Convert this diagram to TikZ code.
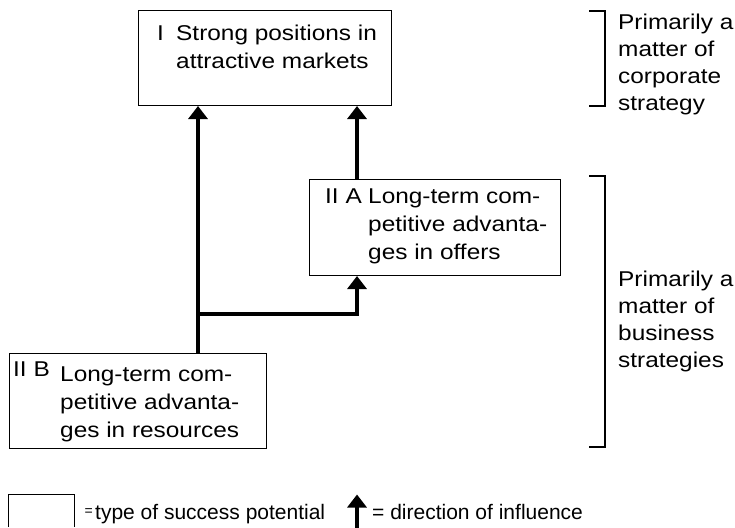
\documentclass[tikz,border=0pt]{standalone}
\usepackage{fontspec}
\setmainfont{Liberation Sans}[FakeStretch=1.14]
\newfontfamily\legendfont{Liberation Sans}
\usetikzlibrary{arrows.meta}

\begin{document}
\begin{tikzpicture}[x=1pt, y=-1pt,
  potbox/.style={draw, line width=1pt, inner sep=0pt, anchor=north west},
  boxtext/.style={inner sep=0pt, anchor=north west, align=left,
    font=\fontsize{21.4}{27.8}\selectfont},
  tag/.style={inner sep=0pt, anchor=base west, font=\fontsize{21.4}{27.8}\selectfont},
  influence/.style={line width=3.3pt, -{Triangle[length=13pt,width=19pt]}},
  brace/.style={line width=1.2pt},
  note/.style={inner sep=0pt, anchor=north west, align=left,
    font=\fontsize{21.4}{27}\selectfont},
  legend/.style={inner sep=0pt, anchor=base west,
    font=\legendfont\fontsize{21}{25}\selectfont}]

  \useasboundingbox (0,0) rectangle (735,527);

  % success potentials
  \node[potbox, minimum width=253pt, minimum height=95pt] (I) at (138,10) {};
  \node[potbox, minimum width=251pt, minimum height=96pt] (IIA) at (309,179) {};
  \node[potbox, minimum width=257pt, minimum height=95pt] (IIB) at (9,353) {};

  \node[tag] (tI) at (157,40.7) {I};
  \node[boxtext] (xI) at (176,21.2) {\strut Strong positions in\\attractive markets};

  \node[tag] (tIIA) at (325,203.3) {II A};
  \node[boxtext] (xIIA) at (368,183.8) {\strut Long-term com-\\petitive advanta-\\ges in offers};

  \node[tag] (tIIB) at (13,376.7) {II B};
  \node[boxtext] (xIIB) at (60,362.2) {\strut Long-term com-\\petitive advanta-\\ges in resources};

  % influences
  \coordinate (j) at (198,314);
  \coordinate (k) at (357,314);
  \draw[influence] (j |- IIB.north) -- (j |- I.south);
  \draw[influence] (j) -- (k) -- (k |- IIA.south);
  \draw[influence] (k |- IIA.north) -- (k |- I.south);

  % levels of strategy
  \draw[brace] (589,11) -- (605,11) -- (605,106) -- (589,106);
  \node[note] (corp) at (618,10.4) {\strut Primarily a\\matter of\\corporate\\strategy};

  \draw[brace] (589,176) -- (605,176) -- (605,447) -- (589,447);
  \node[note] (bus) at (618,267.8) {\strut Primarily a\\matter of\\business\\strategies};

  % legend
  \draw[line width=1pt] (8,527) -- (8,494) -- (74,494) -- (74,527);
  \node[inner sep=0pt, anchor=base west, font=\legendfont\fontsize{14}{16}\selectfont] (eq1) at (84.5,515.5) {=};
  \node[legend] (l1) at (95,519) {type of success potential};
  \coordinate (la) at (357,530);
  \coordinate (lb) at (357,494.5);
  \draw[influence] (la) -- (lb);
  \node[legend] (l2) at (372,519) {= direction of influence};
\end{tikzpicture}
\end{document}
